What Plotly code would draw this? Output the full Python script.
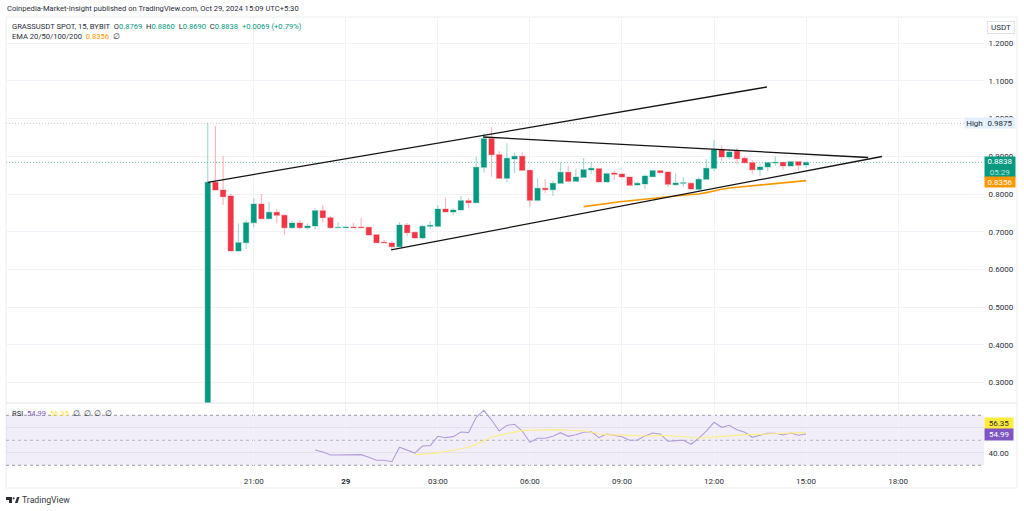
import pandas as pd
import plotly.graph_objects as go

W, H = 1024, 511
FONT = "Roboto"
GREEN = "#089981"
RED = "#f23645"
TXT = "#2a2e39"

times = pd.date_range("2024-10-28 19:30", periods=79, freq="15min")

opens = [0.10,.8309,.8106,.7947,.6488,.6709,.7240,.7735,.7346,.7514,.7434,.7107,.7231,.7107,.7151,.7558,.7372,.7107,.7107,.7125,.7125,.7116,.6921,.6718,.6700,.6603,.7177,.6983,.6833,.7142,.7142,.7602,.7522,.7575,.7823,.7770,.8707,.9468,.9043,.8415,.8928,.8999,.8628,.7832,.8150,.8115,.8283,.8575,.8336,.8442,.8637,.8672,.8318,.8557,.8531,.8451,.8239,.8265,.8460,.8619,.8584,.8248,.8283,.8283,.8124,.8389,.8681,.9185,.8981,.9132,.8946,.8831,.8646,.8716,.8822,.8840,.8743,.8858,.8769]
highs = [.9875,.9804,.9008,.7999,.7222,.7310,.7885,.7999,.7797,.7593,.7461,.7284,.7301,.7222,.7620,.7699,.7425,.7257,.7160,.7240,.7363,.7133,.6939,.6780,.6753,.7257,.7231,.7001,.7178,.7284,.7708,.7903,.7620,.7947,.7885,.8990,.9609,.9768,.9132,.9344,.9096,.9123,.8628,.8416,.8389,.8354,.8840,.8751,.8672,.8955,.8813,.8698,.8575,.8619,.8548,.8451,.8327,.8522,.8637,.8637,.8601,.8548,.8442,.8310,.8442,.8920,.9432,.9291,.9185,.9220,.8999,.8893,.8796,.8849,.8990,.8858,.8875,.8875,.8860]
lows = [0.10,.8088,.7708,.6488,.6488,.6541,.7116,.7328,.7328,.7222,.6921,.7072,.7063,.7063,.7063,.7248,.7080,.7107,.7098,.7098,.7098,.6886,.6691,.6691,.6532,.6585,.6886,.6798,.6806,.7072,.7133,.7505,.7443,.7567,.7620,.7770,.8566,.8460,.8407,.8309,.8554,.8610,.7664,.7797,.8017,.7947,.8265,.8300,.8327,.8424,.8539,.8300,.8300,.8371,.8425,.8212,.8203,.8142,.8442,.8548,.8195,.8221,.8195,.8115,.8062,.8371,.8610,.8884,.8920,.8787,.8805,.8539,.8478,.8610,.8752,.8646,.8725,.8637,.8690]
closes = [.8309,.8106,.7929,.6488,.6709,.7240,.7735,.7346,.7514,.7434,.7107,.7231,.7107,.7151,.7558,.7372,.7107,.7116,.7125,.7107,.7107,.6912,.6709,.6700,.6603,.7177,.6975,.6833,.7142,.7169,.7602,.7522,.7575,.7823,.7770,.8707,.9468,.9043,.8415,.8946,.8999,.8628,.7832,.8150,.8115,.8283,.8575,.8336,.8451,.8645,.8681,.8318,.8539,.8522,.8451,.8230,.8283,.8478,.8619,.8566,.8257,.8292,.8301,.8133,.8389,.8681,.9167,.8981,.9114,.8937,.8831,.8646,.8716,.8831,.8840,.8743,.8858,.8761,.8838]

ema = [.7664,.7695,.7722,.7750,.7775,.7800,.7822,.7845,.7865,.7885,.7908,.7930,.7950,.7968,.7985,.8000,.8036,.8089,.8124,.8159,.8177,.8203,.8221,.8239,.8257,.8274,.8292,.8310,.8336,.8356]

rsi = [42.2,40.6,38.2,38.2,38.8,38.5,38.5,36.4,34.0,34.0,32.9,44.4,42.0,39.8,45.4,45.7,53.2,52.1,52.9,56.6,56.1,68.4,74.0,66.2,57.4,61.9,62.8,57.4,48.4,51.6,51.6,53.2,56.1,53.2,54.5,56.4,56.9,52.1,55.0,54.2,52.9,50.0,50.2,53.4,55.8,55.0,49.2,49.7,50.0,46.8,51.6,57.4,64.4,60.4,62.0,58.5,56.4,52.4,53.7,55.6,55.6,54.2,55.8,54.0,54.99]
rsi_ma = [38.5,38.8,39.3,40.1,40.9,42.0,43.3,44.4,46.8,49.7,52.4,54.0,55.3,56.6,57.7,58.0,58.2,58.2,58.2,58.5,58.0,58.0,57.4,56.6,55.0,54.5,54.2,53.9,53.6,53.4,53.4,53.6,53.9,53.6,53.4,53.1,52.4,51.6,52.1,52.9,53.2,53.7,54.2,54.5,54.5,54.8,55.0,55.3,55.3,55.6,56.1,56.35]

upper_x = ["2024-10-28 19:30", "2024-10-29 13:43:30"]
upper_y = [.8309, 1.0838]
lower_x = ["2024-10-29 01:28:30", "2024-10-29 17:28:30"]
lower_y = [.6515, .8995]
falling_x = ["2024-10-29 04:28:30", "2024-10-29 17:01:30"]
falling_y = [.9512, .8968]

tick_times = ["2024-10-28 21:00","2024-10-29 00:00","2024-10-29 03:00","2024-10-29 06:00","2024-10-29 09:00","2024-10-29 12:00","2024-10-29 15:00","2024-10-29 18:00"]
tick_labels = ["21:00","<b>29</b>","03:00","06:00","09:00","12:00","15:00","18:00"]
price_ticks = [.3,.4,.5,.6,.7,.8,.9,1.0,1.1,1.2]
rsi_ticks = [40, 60]
high_price, last_price, rsi_low, rsi_mid, rsi_high = .9875, .8838, 30, 50, 70

X_RANGE = ["2024-10-28 12:55:30", "2024-10-29 20:48"]
PX = lambda x: x / W
PY = lambda y: 1 - y / H

fig = go.Figure()
fig.add_trace(go.Candlestick(
    x=times, open=opens, high=highs, low=lows, close=closes, xaxis="x", yaxis="y",
    increasing=dict(line=dict(color="rgba(8,153,129,0.35)", width=1.2), fillcolor=GREEN),
    decreasing=dict(line=dict(color="rgba(242,54,69,0.35)", width=1.2), fillcolor=RED),
    whiskerwidth=0, showlegend=False, hoverinfo="skip"))
fig.add_trace(go.Scatter(x=times[49:], y=ema, mode="lines", line=dict(color="#ff9800", width=1.6), xaxis="x", yaxis="y", hoverinfo="skip"))
for xs, ys in ((upper_x, upper_y), (lower_x, lower_y), (falling_x, falling_y)):
    fig.add_trace(go.Scatter(x=xs, y=ys, mode="lines", line=dict(color="#131313", width=1.3), xaxis="x", yaxis="y", hoverinfo="skip"))
fig.add_trace(go.Scatter(x=times[14:], y=rsi, mode="lines", line=dict(color="#b39ddb", width=1.1), xaxis="x2", yaxis="y2", hoverinfo="skip"))
fig.add_trace(go.Scatter(x=times[27:], y=rsi_ma, mode="lines", line=dict(color="#fdee80", width=1.1), xaxis="x2", yaxis="y2", hoverinfo="skip"))

def data_line(y, color, dash, xref="x", yref="y"):
    return dict(type="line", xref=xref, yref=yref, x0=X_RANGE[0], x1=X_RANGE[1], y0=y, y1=y,
                line=dict(color=color, width=1, dash=dash), layer="below")

shapes = [
    data_line(high_price, "#c3c6ce", "1px,2px"),
    data_line(last_price, "#7fcabd", "1px,2px"),
    dict(type="rect", xref="x2", yref="y2", x0=X_RANGE[0], x1=X_RANGE[1], y0=rsi_low, y1=rsi_high,
         fillcolor="rgba(126,87,194,0.1)", line=dict(width=0), layer="below"),
    data_line(rsi_high, "#9a9ca3", "3px,3px", "x2", "y2"),
    data_line(rsi_mid, "#b5b6bb", "3px,3px", "x2", "y2"),
    data_line(rsi_low, "#9a9ca3", "3px,3px", "x2", "y2"),
    dict(type="line", xref="paper", yref="paper", x0=PX(6), x1=PX(1017), y0=PY(403), y1=PY(403), line=dict(color="#e0e3eb", width=1)),
    dict(type="rect", xref="paper", yref="paper", x0=PX(6), x1=PX(1017), y0=PY(488), y1=PY(17), line=dict(color="#eceef3", width=1), layer="below"),
]
def poly(pts):
    return "M" + " L".join(f"{PX(a):.5f},{PY(b):.5f}" for a, b in pts) + " Z"
for pts in (
    [(6,497),(12,497),(12,503),(9,503),(9,500),(6,500)],
    [(15,503),(17,497),(19.5,497),(17.5,503)],
):
    shapes.append(dict(type="path", xref="paper", yref="paper", path=poly(pts), fillcolor=TXT, line=dict(width=0)))
shapes.append(dict(type="circle", xref="paper", yref="paper", x0=PX(12.6), x1=PX(14.6), y0=PY(499.5), y1=PY(497.2), fillcolor=TXT, line=dict(width=0)))

def note(text, x, y, size=7.6, color=TXT, anchor="left", **kw):
    return dict(text=text, xref="paper", yref="paper", x=PX(x), y=PY(y), xanchor=anchor, yanchor="middle",
                showarrow=False, font=dict(family=FONT, size=size, color=color), borderpad=0, **kw)

def chip(text, x0, x1, y0, y1, bg, color, **kw):
    return dict(text=text, xref="paper", yref="paper", x=PX((x0 + x1) / 2), y=PY((y0 + y1) / 2), xanchor="center", yanchor="middle",
                width=x1 - x0, height=y1 - y0, showarrow=False, bgcolor=bg, borderpad=0,
                font=dict(family=FONT, size=8, color=color), **kw)

def span(text, color):
    return f'<span style="color:{color}">{text}</span>'

annotations = [
    note("Coinpedia-Market-Insight published on TradingView.com, Oct 29, 2024 15:09 UTC+5:30", 6, 9),
    note("GRASSUSDT SPOT, 15, BYBIT  O" + span("0.8769", GREEN) + "  H" + span("0.8860", GREEN) + "  L" + span("0.8690", GREEN)
         + "  C" + span("0.8838", GREEN) + "  " + span("+0.0069 (+0.79%)", GREEN), 11, 26),
    note("EMA 20/50/100/200  " + span("0.8356", "#ff9800") + "  ∅", 11, 37),
    note("RSI  " + span("54.99", "#7e57c2") + "  " + span("56.35", "#ffe93b") + "  ∅  ∅  ∅  ∅", 11, 413),
    note("TradingView", 21, 500, size=8.7, color="#333842"),
    chip("USDT", 988, 1014, 22, 33, "#ffffff", TXT, bordercolor="#e0e3eb", borderwidth=1),
    chip("High", 965, 984, 118, 128, "#e3effd", TXT),
    chip("0.9875", 985, 1015, 118, 128, "#e3effd", TXT),
    chip("0.8838<br><span style='color:#b5e3da'>05:29</span>", 985, 1015, 157, 177, GREEN, "#ffffff"),
    chip("0.8356", 985, 1015, 177, 187.3, "#ff9800", "#ffffff"),
    chip("56.35", 985, 1013, 418, 428.7, "#ffeb3b", TXT),
    chip("54.99", 985, 1013, 429, 439.7, "#7e57c2", "#ffffff"),
]

axis_font = dict(family=FONT, size=8, color=TXT)
grid = "#f2f3f8"
fig.update_layout(
    width=W, height=H, margin=dict(l=0, r=0, t=0, b=0), paper_bgcolor="#ffffff", plot_bgcolor="#ffffff",
    showlegend=False, boxgap=0.02, shapes=shapes, annotations=annotations,
    xaxis=dict(domain=[PX(6), PX(984)], range=X_RANGE, type="date", anchor="y", tickvals=tick_times, ticktext=[""] * 8,
               showgrid=True, gridcolor=grid, gridwidth=1, zeroline=False, showline=False, ticks="",
               rangeslider=dict(visible=False), fixedrange=True),
    yaxis=dict(domain=[PY(403), PY(17)], range=[.2456, 1.2695], anchor="x", side="right", tickvals=price_ticks, tickformat=".4f",
               showgrid=True, gridcolor=grid, zeroline=False, showline=False, ticks="outside", ticklen=2, tickcolor="rgba(0,0,0,0)",
               tickfont=axis_font, fixedrange=True),
    xaxis2=dict(domain=[PX(6), PX(984)], range=X_RANGE, type="date", anchor="y2", tickvals=tick_times, ticktext=tick_labels,
                showgrid=True, gridcolor=grid, zeroline=False, showline=False, ticks="outside", ticklen=5, tickcolor="rgba(0,0,0,0)",
                tickfont=axis_font, fixedrange=True),
    yaxis2=dict(domain=[PY(468), PY(403)], range=[27.84, 79.84], anchor="x2", side="right", tickvals=rsi_ticks, tickformat=".2f",
                showgrid=True, gridcolor="#e4e1ef", zeroline=False, showline=False, ticks="outside", ticklen=2, tickcolor="rgba(0,0,0,0)",
                tickfont=axis_font, fixedrange=True),
)
fig.write_html("out.html", config=dict(displayModeBar=False), post_script="document.body.style.margin='0';document.body.style.overflow='hidden';")
